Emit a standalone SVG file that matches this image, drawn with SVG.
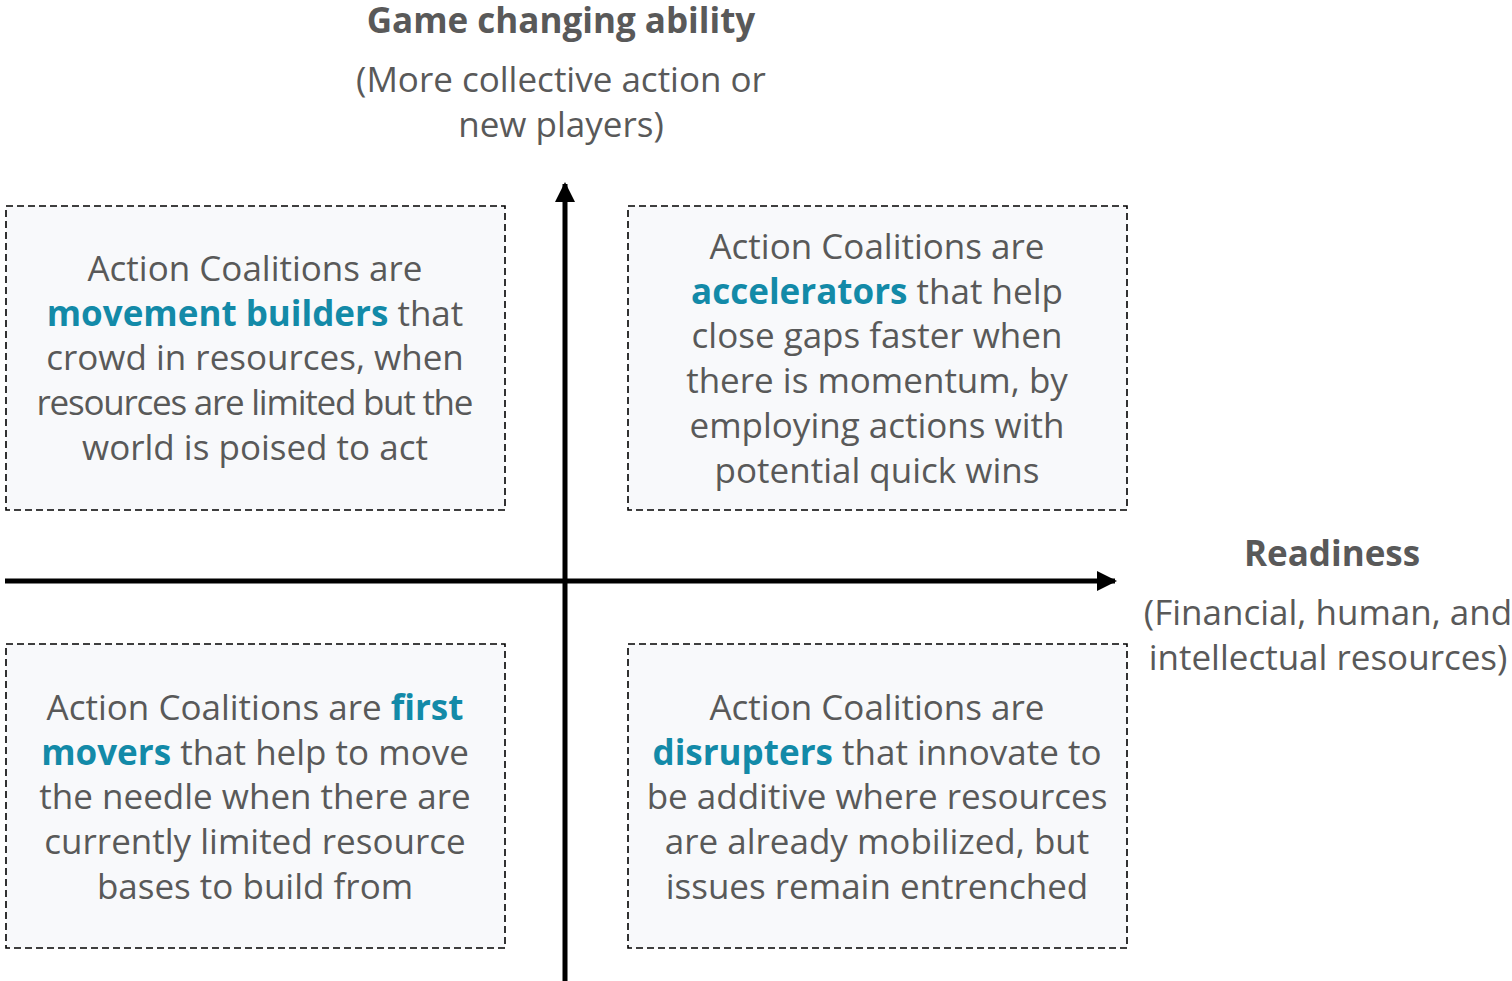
<svg xmlns="http://www.w3.org/2000/svg" width="1512" height="981" viewBox="0 0 1512 981">
<style>
text{font-family:"Open Sans","Noto Sans","Liberation Sans",sans-serif;fill:#595959;text-anchor:middle}
.t{font-size:35px}
.b{font-weight:bold;fill:#138aa8}
.h{font-size:35px;font-weight:bold}
.box{fill:#f8f9fb;stroke:#000;stroke-width:1.6;stroke-dasharray:7,4}
.ax{stroke:#000;stroke-width:5;fill:none}
</style>
<defs>
<marker id="ar" viewBox="0 0 10 10" refX="9" refY="5" markerWidth="4" markerHeight="4" markerUnits="strokeWidth" orient="auto"><path d="M0,0 L10,5 L0,10 z" fill="#000"/></marker>
</defs>
<g id="boxes">
<g id="tl"><rect class="box" x="6" y="206" width="499" height="304"/>
<text class="t" x="255" y="281">Action Coalitions are</text>
<text class="t" x="255" y="326"><tspan class="b">movement builders</tspan> that</text>
<text class="t" x="255" y="370">crowd in resources, when</text>
<text class="t" x="255" y="415" textLength="437" lengthAdjust="spacing">resources are limited but the</text>
<text class="t" x="255" y="460">world is poised to act</text></g>
<g id="tr"><rect class="box" x="628" y="206" width="499" height="304"/>
<text class="t" x="877" y="259">Action Coalitions are</text>
<text class="t" x="877" y="304"><tspan class="b">accelerators</tspan> that help</text>
<text class="t" x="877" y="348">close gaps faster when</text>
<text class="t" x="877" y="393">there is momentum, by</text>
<text class="t" x="877" y="438">employing actions with</text>
<text class="t" x="877" y="483">potential quick wins</text></g>
<g id="bl"><rect class="box" x="6" y="644" width="499" height="304"/>
<text class="t" x="255" y="720">Action Coalitions are <tspan class="b">first</tspan></text>
<text class="t" x="255" y="765"><tspan class="b">movers</tspan> that help to move</text>
<text class="t" x="255" y="809">the needle when there are</text>
<text class="t" x="255" y="854">currently limited resource</text>
<text class="t" x="255" y="899">bases to build from</text></g>
<g id="br"><rect class="box" x="628" y="644" width="499" height="304"/>
<text class="t" x="877" y="720">Action Coalitions are</text>
<text class="t" x="877" y="765"><tspan class="b">disrupters</tspan> that innovate to</text>
<text class="t" x="877" y="809">be additive where resources</text>
<text class="t" x="877" y="854">are already mobilized, but</text>
<text class="t" x="877" y="899">issues remain entrenched</text></g>
</g>
<g id="connectors">
<line class="ax" x1="565" y1="981" x2="565" y2="184" marker-end="url(#ar)"/>
<line class="ax" x1="5" y1="581" x2="1115" y2="581" marker-end="url(#ar)"/>
</g>
<g id="yLabel">
<text class="h" x="561" y="33">Game changing ability</text>
<text class="t" x="561" y="92">(More collective action or</text>
<text class="t" x="561" y="137">new players)</text>
</g>
<g id="xLabel">
<text class="h" x="1332" y="566">Readiness</text>
<text class="t" x="1328" y="625">(Financial, human, and</text>
<text class="t" x="1328" y="670">intellectual resources)</text>
</g>
</svg>
